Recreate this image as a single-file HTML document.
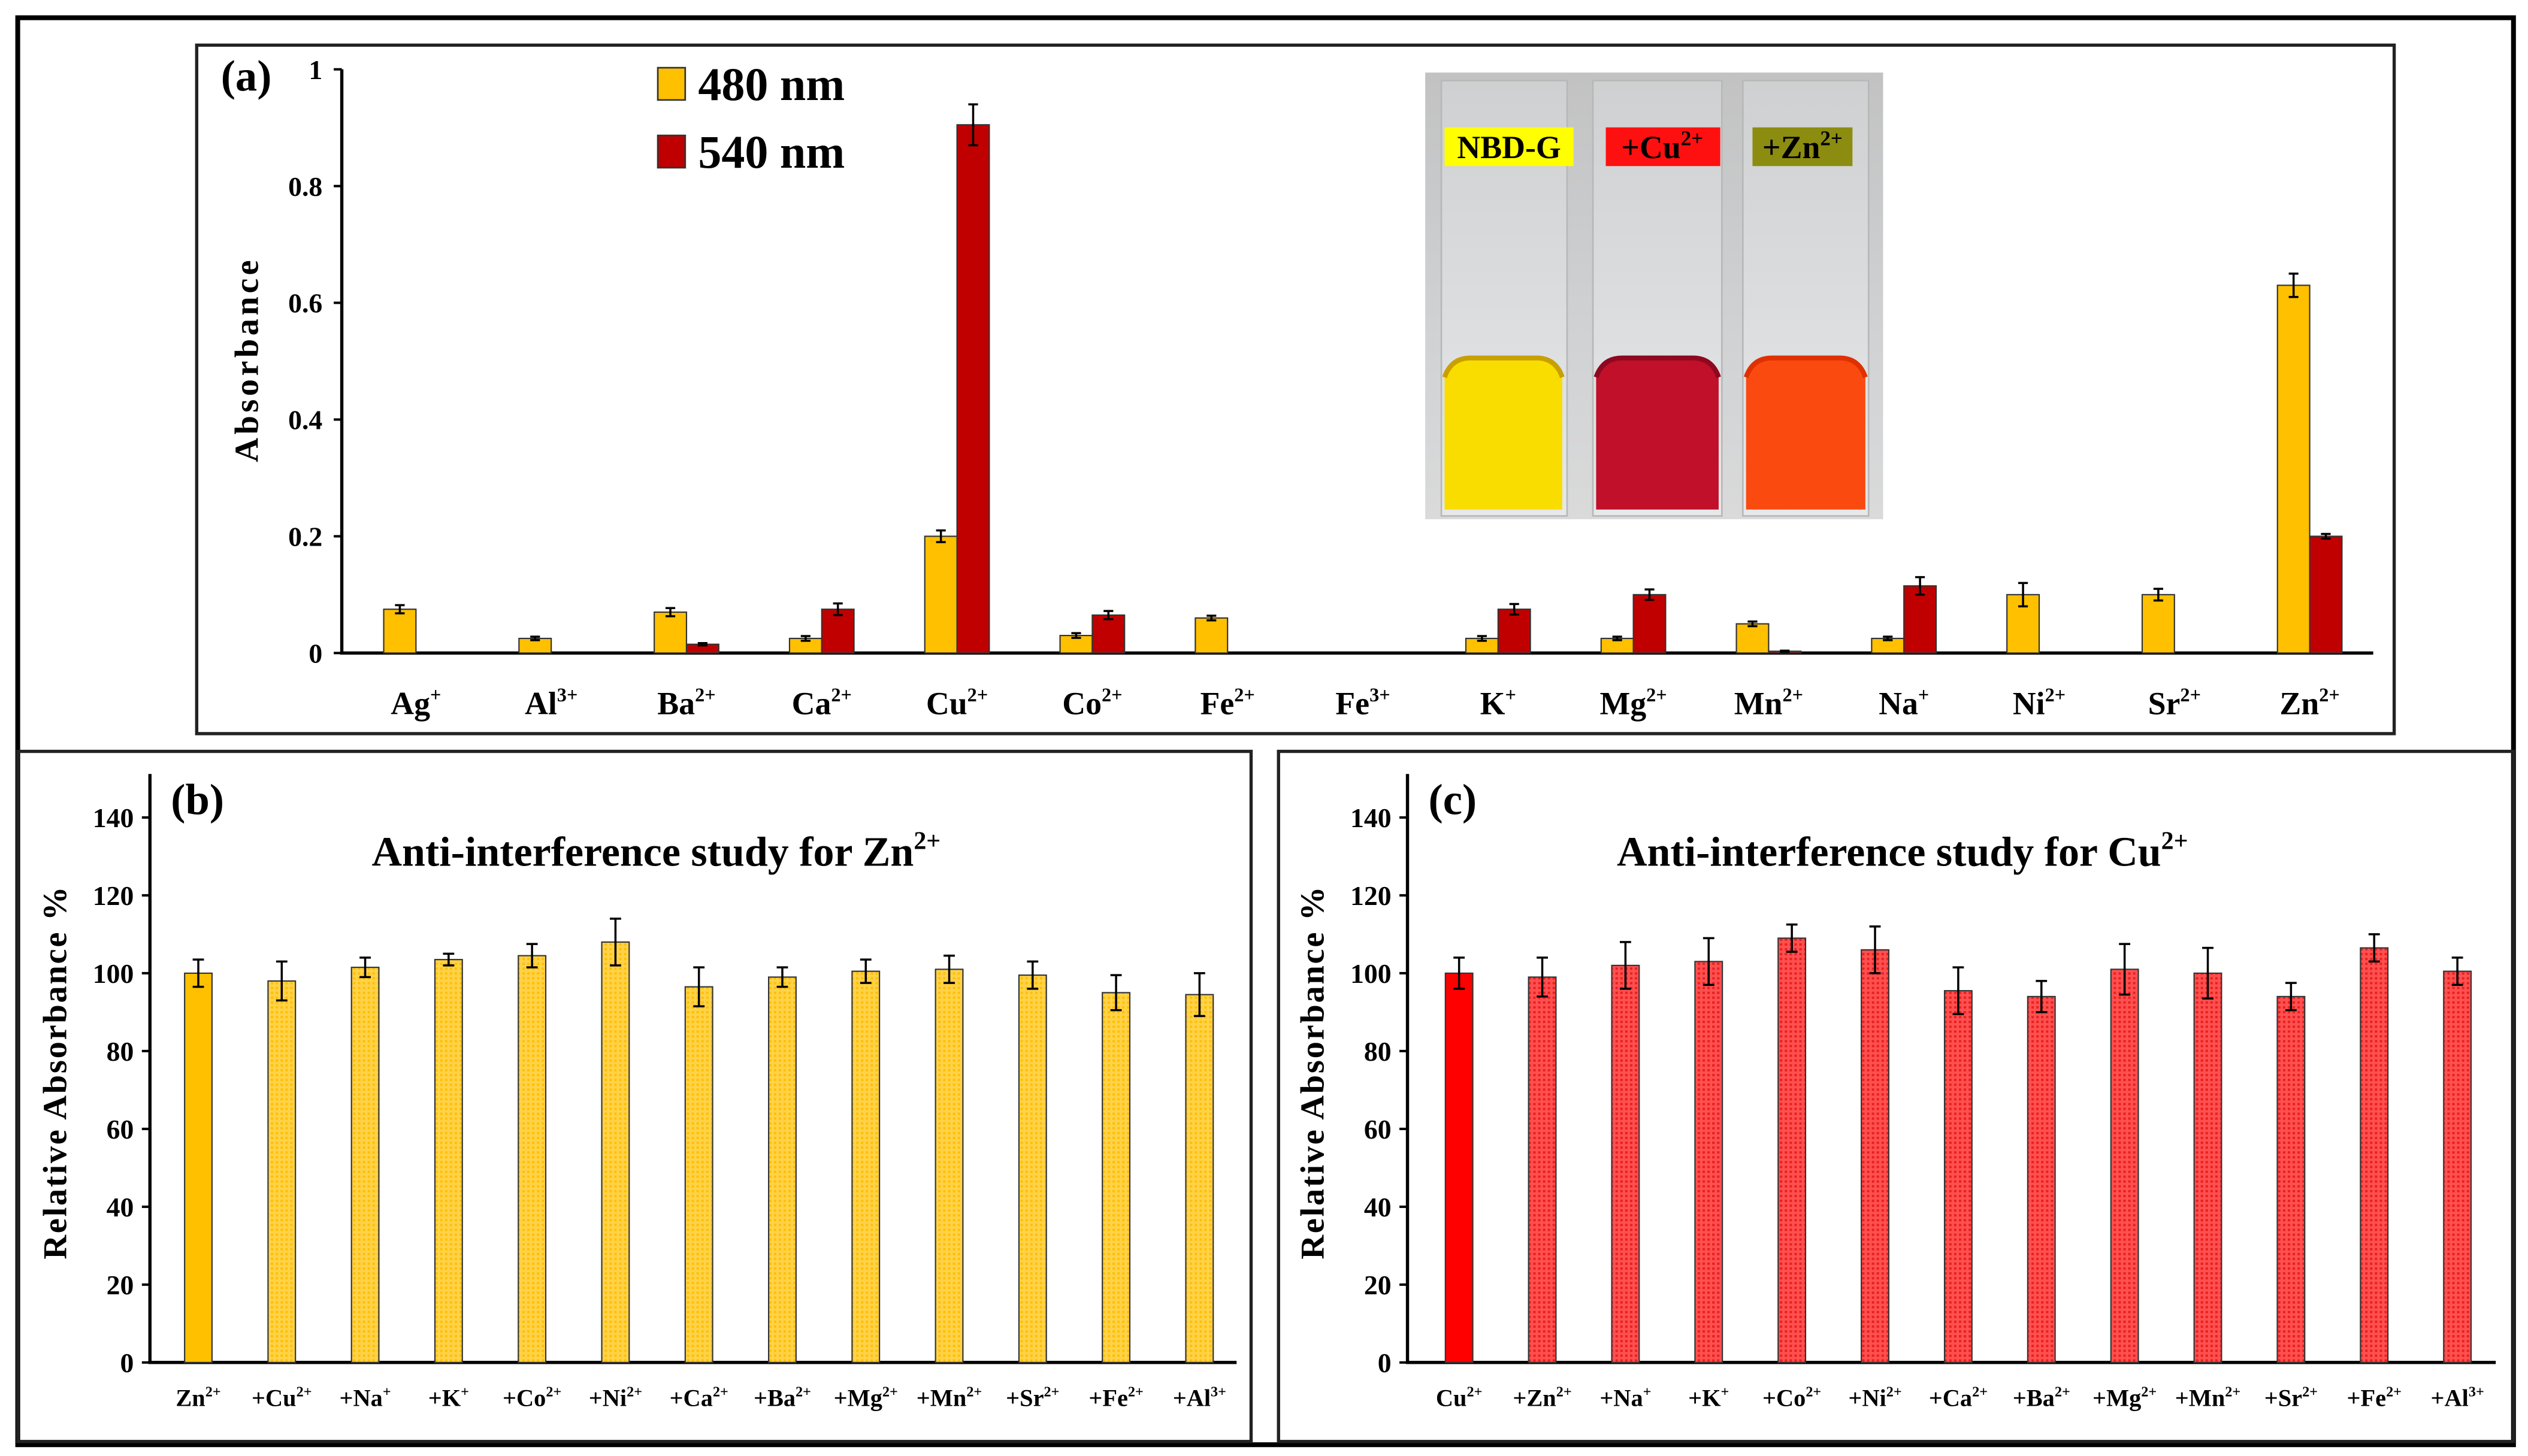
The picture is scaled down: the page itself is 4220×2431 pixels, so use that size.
<!DOCTYPE html>
<html><head><meta charset="utf-8"><style>
html,body{margin:0;padding:0;background:#fff;}
svg{display:block;}
text{font-family:"Liberation Serif",serif;font-weight:bold;fill:#000;}
</style></head><body>
<svg id="fig" width="4220" height="2431" viewBox="0 0 1568 903" preserveAspectRatio="none" xmlns="http://www.w3.org/2000/svg">
<defs>
<pattern id="hatchY" width="3" height="3" patternUnits="userSpaceOnUse"><rect width="3" height="3" fill="#FFD24A"/><rect width="1.5" height="1.5" fill="#FFC000"/></pattern>
<pattern id="hatchR" width="3" height="3" patternUnits="userSpaceOnUse"><rect width="3" height="3" fill="#FF5050"/><rect width="1.5" height="1.5" fill="#E82020"/></pattern>
<linearGradient id="glass" x1="0" y1="0" x2="0" y2="1"><stop offset="0" stop-color="#c2c2c2"/><stop offset="0.6" stop-color="#d0d2d4"/><stop offset="1" stop-color="#dadada"/></linearGradient>
<linearGradient id="tube" x1="0" y1="0" x2="0" y2="1"><stop offset="0" stop-color="#cfd0d2"/><stop offset="0.7" stop-color="#dfe1e3"/><stop offset="1" stop-color="#e6e8ea"/></linearGradient>
</defs>
<rect x="11" y="11" width="1548" height="885" fill="none" stroke="#000" stroke-width="3"/>
<rect x="122" y="28" width="1363" height="427" fill="none" stroke="#222" stroke-width="2"/>
<rect x="11" y="466" width="765" height="428" fill="none" stroke="#222" stroke-width="2"/>
<rect x="793" y="466" width="766" height="428" fill="none" stroke="#222" stroke-width="2"/>

<g id="photo">
<rect x="884" y="45" width="284" height="277" fill="url(#glass)"/>
<rect x="894" y="50" width="78" height="270" fill="url(#tube)" stroke="#b8b8b8"/>
<rect x="988" y="50" width="80" height="270" fill="url(#tube)" stroke="#b8b8b8"/>
<rect x="1081" y="50" width="78" height="270" fill="url(#tube)" stroke="#b8b8b8"/>
<path d="M896 234 Q900 222 912 222 L953 222 Q965 222 969 234 L969 316 L896 316 Z" fill="#F9DC00"/>
<path d="M896 234 Q900 222 912 222 L953 222 Q965 222 969 234" fill="none" stroke="#C8A000" stroke-width="3"/>
<path d="M990 234 Q994 222 1006 222 L1050 222 Q1062 222 1066 234 L1066 316 L990 316 Z" fill="#C0102A"/>
<path d="M990 234 Q994 222 1006 222 L1050 222 Q1062 222 1066 234" fill="none" stroke="#8E0820" stroke-width="3"/>
<path d="M1083 234 Q1087 222 1099 222 L1141 222 Q1153 222 1157 234 L1157 316 L1083 316 Z" fill="#FA4A10"/>
<path d="M1083 234 Q1087 222 1099 222 L1141 222 Q1153 222 1157 234" fill="none" stroke="#E03000" stroke-width="3"/>
<rect x="896" y="79" width="80" height="24" fill="#FFFF00"/>
<text x="936" y="98" font-size="20" text-anchor="middle">NBD-G</text>
<rect x="996" y="79" width="71" height="24" fill="#FF1010"/>
<text x="1031" y="98" font-size="20" text-anchor="middle">+Cu<tspan font-size="13" dy="-8">2+</tspan></text>
<rect x="1087" y="79" width="62" height="24" fill="#8C8C10"/>
<text x="1118" y="98" font-size="20" text-anchor="middle">+Zn<tspan font-size="13" dy="-8">2+</tspan></text>
</g>

<g id="pa"></g>
<g id="pb"></g>
<g id="pc"></g>
</svg>
<script>
const NS="http://www.w3.org/2000/svg";
// Panel (a) data
const aIons=["Ag","Al","Ba","Ca","Cu","Co","Fe","Fe","K","Mg","Mn","Na","Ni","Sr","Zn"];
const aCharges=["+","3+","2+","2+","2+","2+","2+","3+","+","2+","2+","+","2+","2+","2+"];
const a480=[0.075,0.025,0.07,0.025,0.2,0.03,0.06,0,0.025,0.025,0.05,0.025,0.1,0.1,0.63];
const a480err=[0.007,0.003,0.007,0.004,0.01,0.004,0.004,0,0.004,0.003,0.004,0.003,0.02,0.01,0.02];
const a540=[0,0,0.015,0.075,0.905,0.065,0,0,0.075,0.1,0.003,0.115,0,0,0.2];
const a540err=[0,0,0.002,0.01,0.035,0.007,0,0,0.009,0.009,0.001,0.015,0,0,0.004];
const aTicks=[0,0.2,0.4,0.6,0.8,1];
const aTickLabels=["0","0.2","0.4","0.6","0.8","1"];
// Panel (b) data
const bLabels=["Zn","+Cu","+Na","+K","+Co","+Ni","+Ca","+Ba","+Mg","+Mn","+Sr","+Fe","+Al"];
const bCharges=["2+","2+","+","+","2+","2+","2+","2+","2+","2+","2+","2+","3+"];
const bValues=[100,98,101.5,103.5,104.5,108,96.5,99,100.5,101,99.5,95,94.5];
const bErr=[3.5,5,2.5,1.5,3,6,5,2.5,3,3.5,3.5,4.5,5.5];
// Panel (c) data
const cLabels=["Cu","+Zn","+Na","+K","+Co","+Ni","+Ca","+Ba","+Mg","+Mn","+Sr","+Fe","+Al"];
const cCharges=["2+","2+","+","+","2+","2+","2+","2+","2+","2+","2+","2+","3+"];
const cValues=[100,99,102,103,109,106,95.5,94,101,100,94,106.5,100.5];
const cErr=[4,5,6,6,3.5,6,6,4,6.5,6.5,3.5,3.5,3.5];
const pTicks=[0,20,40,60,80,100,120,140];

function mk(parent,tag,attrs){const e=document.createElementNS(NS,tag);for(const k in attrs)e.setAttribute(k,attrs[k]);parent.appendChild(e);return e;}
function label(parent,x,y,size,base,sup){const t=mk(parent,"text",{x:x,y:y,"font-size":size,"text-anchor":"middle"});t.appendChild(document.createTextNode(base));const s=mk(t,"tspan",{"font-size":size*0.6,dy:-size*0.4});s.textContent=sup;return t;}
function errBar(g,x,yTop,yBot,cap){
  const e=mk(g,"path",{d:`M${x} ${yTop}V${yBot}M${x-cap} ${yTop}H${x+cap}M${x-cap} ${yBot}H${x+cap}`,stroke:"#000","stroke-width":1.3,fill:"none"});
  
  
}

// ---- Panel a ----
(function(){
  const g=document.getElementById("pa");
  const x0=212,x1=1472,yZero=405,yTop=43;
  const ys=v=>yZero-(v/1)*(yZero-yTop);
  const xc=i=>258+i*83.9;
  const ax=mk(g,"path",{d:`M${x0} ${yTop}V${yZero}H${x1}`,stroke:"#000","stroke-width":2,fill:"none"});
  
  
  aTicks.forEach((t,i)=>{
    mk(g,"path",{d:`M${x0-5} ${ys(t)}H${x0}`,stroke:"#000","stroke-width":1.5});
    const tl=mk(g,"text",{x:x0-12,y:ys(t)+6,"font-size":17,"text-anchor":"end"});
    tl.textContent=aTickLabels[i];
    
    
  });
  a480.forEach((v,i)=>{
    const c=xc(i);
    if(v>0){
      const r=mk(g,"rect",{x:c-20,y:ys(v),width:20,height:yZero-ys(v),fill:"#FFC000",stroke:"#333","stroke-width":0.8});
      
      
      if(a480err[i]>0)errBar(g,c-10,ys(v+a480err[i]),ys(v-a480err[i]),3);
    }
    const w=a540[i];
    if(w>0){
      const r2=mk(g,"rect",{x:c,y:ys(w),width:20,height:yZero-ys(w),fill:"#C00000",stroke:"#333","stroke-width":0.8});
      
      
      if(a540err[i]>0)errBar(g,c+10,ys(w+a540err[i]),ys(w-a540err[i]),3);
    }
    const l=label(g,c,443,20,aIons[i],aCharges[i]);
    
    
  });
  const yt=mk(g,"text",{x:0,y:0,"font-size":21,"text-anchor":"middle",transform:"translate(160,223) rotate(-90)","letter-spacing":"2"});
  yt.textContent="Absorbance";
  
  
  const pl=mk(g,"text",{x:137,y:56,"font-size":27});
  pl.textContent="(a)";
  
  
  const lg=mk(g,"g",{});
  
  
  mk(lg,"rect",{x:408,y:42,width:17,height:20,fill:"#FFC000",stroke:"#333","stroke-width":1});
  const t1=mk(lg,"text",{x:433,y:62,"font-size":29});t1.textContent="480 nm";
  mk(lg,"rect",{x:408,y:84,width:17,height:20,fill:"#C00000",stroke:"#333","stroke-width":1});
  const t2=mk(lg,"text",{x:433,y:104,"font-size":29});t2.textContent="540 nm";
})();

// ---- Panels b,c ----
function relPanel(id,x0,x1,first,spacing,labels,charges,vals,errs,solid,hatch,title,tcx,letter){
  const g=document.getElementById(id);
  const yZero=845,yTop=480,y140=507;
  const ys=v=>yZero-v*(yZero-y140)/140;
  const xc=i=>first+i*spacing;
  const ax=mk(g,"path",{d:`M${x0} ${yTop}V${yZero}H${x1}`,stroke:"#000","stroke-width":2,fill:"none"});
  
  
  pTicks.forEach(t=>{
    mk(g,"path",{d:`M${x0-5} ${ys(t)}H${x0}`,stroke:"#000","stroke-width":1.5});
    const tl=mk(g,"text",{x:x0-10,y:ys(t)+6,"font-size":17,"text-anchor":"end"});
    tl.textContent=String(t);
    
    
  });
  vals.forEach((v,i)=>{
    const c=xc(i);
    const r=mk(g,"rect",{x:c-8.5,y:ys(v),width:17,height:yZero-ys(v),fill:i===0?solid:hatch,stroke:"#333","stroke-width":0.8});
    
    
    errBar(g,c,ys(v+errs[i]),ys(v-errs[i]),3.5);
    const l=label(g,c,872,15,labels[i],charges[i]);
    
    
  });
  const yt=mk(g,"text",{x:0,y:0,"font-size":21,"text-anchor":"middle",transform:`translate(${x0-52},665) rotate(-90)`,"letter-spacing":"1"});
  yt.textContent="Relative Absorbance %";
  
  
  const tt=label(g,tcx,537,26,title,"2+");
  
  
  const pl=mk(g,"text",{x:x0+13,y:505,"font-size":27});
  pl.textContent=letter;
  
  
}
relPanel("pb",93,767,123,51.75,bLabels,bCharges,bValues,bErr,"#FFC000","url(#hatchY)","Anti-interference study for Zn",407,"(b)");
relPanel("pc",873,1548,905,51.6,cLabels,cCharges,cValues,cErr,"#FF0000","url(#hatchR)","Anti-interference study for Cu",1180,"(c)");
</script>
</body></html>
